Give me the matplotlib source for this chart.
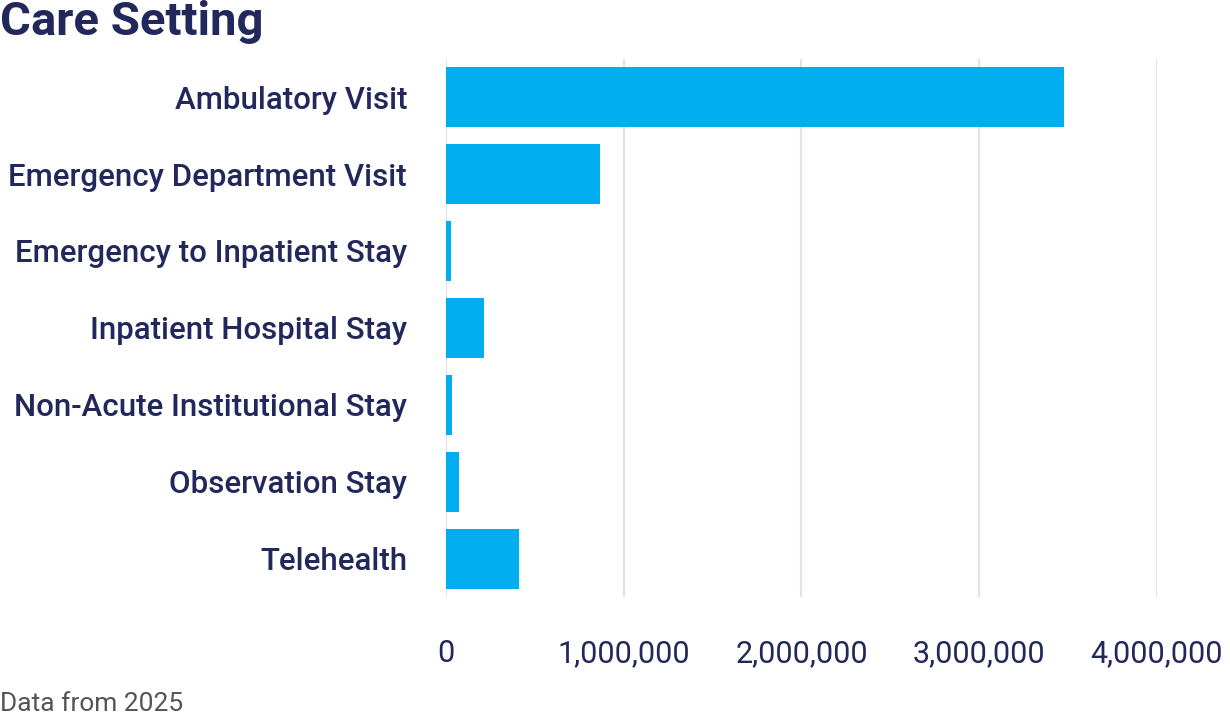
import matplotlib
matplotlib.use("Agg")
import matplotlib.pyplot as plt
from matplotlib.ticker import FuncFormatter

NAVY = "#22285c"
BLUE = "#00aeef"
GRID = "#e3e3e3"

categories = [
    "Ambulatory Visit",
    "Emergency Department Visit",
    "Emergency to Inpatient Stay",
    "Inpatient Hospital Stay",
    "Non-Acute Institutional Stay",
    "Observation Stay",
    "Telehealth",
]
counts = [3477000, 866000, 27000, 212000, 33000, 73000, 413000]
xticks = [0, 1000000, 2000000, 3000000, 4000000]

plt.rcParams["font.family"] = ["Roboto", "DejaVu Sans"]

fig = plt.figure(figsize=(12.3, 7.17), dpi=100)
ax = fig.add_axes([0.3626, 0.1667, 0.578, 0.7517])

ypos = list(range(len(categories)))
ax.barh(ypos, counts, height=0.77, color=BLUE, zorder=3)
ax.set_ylim(len(categories) - 0.5, -0.5)
ax.set_xlim(0, 4000000)
ax.set_yticks(ypos)
ax.set_yticklabels(categories, fontsize=22.5, fontweight="medium", color=NAVY)
ax.set_xticks(xticks)
ax.xaxis.set_major_formatter(FuncFormatter(lambda v, p: f"{int(v):,}"))
for lab in ax.get_xticklabels():
    lab.set_fontsize(22)
    lab.set_color(NAVY)

ax.tick_params(axis="y", length=0, pad=28)
ax.tick_params(axis="x", length=0, pad=30)
ax.grid(axis="x", color=GRID, linewidth=1.5, zorder=0)
for s in ax.spines.values():
    s.set_visible(False)

fig.text(0.0, 1.0, "Care Setting", fontsize=34, fontweight="bold",
         color=NAVY, ha="left", va="top")
fig.text(0.0, 0.018, "Data from 2025", fontsize=19, color="#555555",
         ha="left", va="center")

fig.savefig("out.png", dpi=100)
